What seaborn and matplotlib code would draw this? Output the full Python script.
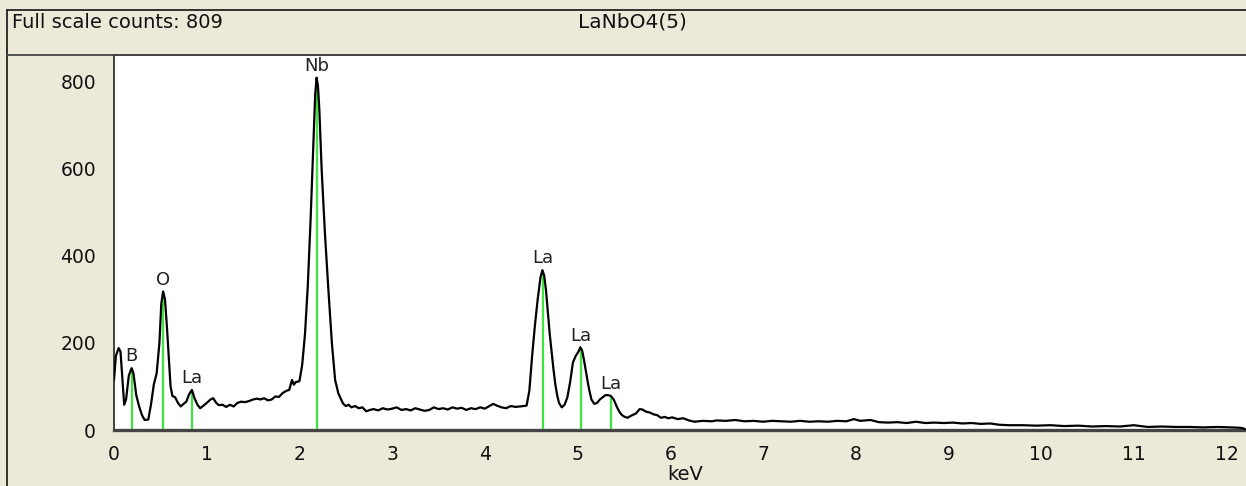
import numpy as np
import pandas as pd
import matplotlib
matplotlib.use("Agg")
import matplotlib.pyplot as plt
from matplotlib.lines import Line2D
import seaborn as sns

# ---- data ----
energy_kev = [
    0.00, 0.02, 0.05, 0.07, 0.09, 0.11, 0.13, 0.16, 0.19, 0.21, 0.24, 0.27, 0.30, 0.33, 0.37,
    0.40, 0.43, 0.46, 0.49, 0.51, 0.53, 0.55, 0.57, 0.59, 0.61, 0.63, 0.66, 0.69, 0.72, 0.75,
    0.78, 0.81, 0.84, 0.87, 0.90, 0.93, 0.96, 1.00, 1.04, 1.07, 1.10, 1.13, 1.17, 1.21, 1.25,
    1.29, 1.33, 1.37, 1.41, 1.45, 1.50, 1.54, 1.58, 1.62, 1.66, 1.70, 1.74, 1.78, 1.82, 1.86,
    1.89, 1.92, 1.94, 1.96, 2.00, 2.03, 2.06, 2.09, 2.12, 2.15, 2.17, 2.185, 2.20,
    2.215, 2.24, 2.275, 2.31, 2.35, 2.385, 2.42, 2.47, 2.50, 2.53, 2.56, 2.60,
    2.64, 2.68, 2.72, 2.76, 2.80, 2.85, 2.90, 2.95, 3.00, 3.05, 3.10, 3.15, 3.20, 3.25, 3.30,
    3.35, 3.40, 3.45, 3.50, 3.55, 3.60, 3.65, 3.70, 3.75, 3.80, 3.85, 3.90, 3.95, 4.00, 4.05,
    4.09, 4.13, 4.18, 4.23, 4.28, 4.33, 4.38, 4.42, 4.45, 4.48, 4.51, 4.54, 4.57, 4.60, 4.62,
    4.64, 4.66, 4.68, 4.70, 4.72, 4.74, 4.76, 4.78, 4.80, 4.83, 4.86, 4.89, 4.92, 4.95, 4.98,
    5.01, 5.03, 5.05, 5.07, 5.09, 5.11, 5.13, 5.15, 5.18, 5.21, 5.24, 5.27, 5.30, 5.33, 5.36,
    5.39, 5.42, 5.45, 5.48, 5.51, 5.54, 5.57, 5.60, 5.63, 5.67, 5.70, 5.74, 5.78, 5.82, 5.86,
    5.90, 5.94, 5.98, 6.02, 6.08, 6.14, 6.20, 6.26, 6.35, 6.45, 6.50, 6.60, 6.70, 6.80, 6.90,
    7.00, 7.10, 7.20, 7.30, 7.40, 7.50, 7.60, 7.70, 7.80, 7.90, 7.98, 8.05, 8.16, 8.25, 8.35,
    8.45, 8.55, 8.65, 8.75, 8.85, 8.95, 9.05, 9.15, 9.25, 9.35, 9.45, 9.55, 9.65, 9.80, 9.95,
    10.10, 10.25, 10.40, 10.55, 10.70, 10.85, 11.00, 11.15, 11.30, 11.45, 11.60, 11.75, 11.90,
    12.05, 12.15, 12.19, 12.21,
]
counts = [
    115, 170, 188, 180, 120, 58, 70, 125, 142, 130, 80, 55, 35, 23, 24,
    60, 105, 130, 200, 290, 318, 300, 240, 170, 100, 78, 75, 62, 54, 60,
    65, 82, 92, 72, 58, 50, 55, 62, 70, 73, 63, 57, 58, 53, 58,
    54, 62, 65, 64, 66, 70, 72, 70, 73, 68, 70, 77, 76, 85, 90,
    92, 115, 104, 110, 112, 150, 220, 330, 480, 650, 770, 809, 790,
    735, 597, 452, 330, 200, 115, 84, 61, 55, 58, 52, 55,
    50, 52, 43, 46, 48, 45, 50, 47, 49, 52, 46, 48, 45, 50, 47,
    44, 46, 52, 48, 50, 47, 52, 49, 51, 46, 50, 48, 52, 49, 55,
    60, 56, 52, 50, 55, 53, 54, 55, 56, 90, 170, 240, 300, 350, 367,
    355, 320, 270, 220, 180, 140, 105, 80, 62, 52, 58, 75, 110, 155, 170,
    180, 190, 182, 160, 135, 110, 88, 70, 60, 62, 70, 75, 80, 80, 78,
    70, 55, 42, 34, 30, 28, 32, 35, 38, 48, 47, 42, 40, 36, 34,
    28, 30, 27, 29, 25, 27, 22, 19, 21, 20, 22, 21, 23, 20, 21,
    19, 21, 20, 19, 21, 19, 20, 19, 21, 20, 25, 21, 23, 18, 17,
    18, 16, 19, 16, 17, 16, 17, 15, 16, 14, 15, 12, 11, 11, 10,
    11, 9, 10, 8, 9, 8, 11, 7, 8, 7, 7, 6, 7,
    6, 5, 3, 0,
]

marker_elements = ["B", "O", "La", "Nb", "La", "La", "La"]
marker_kev = [0.19, 0.53, 0.84, 2.185, 4.63, 5.04, 5.36]
marker_heights = [142, 318, 92, 809, 367, 188, 78]

x_ticks = [0, 1, 2, 3, 4, 5, 6, 7, 8, 9, 10, 11, 12]
y_ticks = [0, 200, 400, 600, 800]

header_left = "Full scale counts: 809"
header_title = "LaNbO4(5)"
x_label = "keV"

# ---- drawing ----
sns.set_theme(style="white")
plt.rcParams["font.family"] = ["DejaVu Sans"]

W, H = 1246, 486
beige = "#ECE9D8"
fig = plt.figure(figsize=(W / 100, H / 100), dpi=100, facecolor=beige)

left_px, right_px, top_px, bottom_px = 114, 1246, 55, 430
ax = fig.add_axes([left_px / W, 1 - bottom_px / H,
                   (right_px - left_px) / W, (bottom_px - top_px) / H])
ax.set_facecolor("white")

df = pd.DataFrame({"keV": energy_kev, "counts": counts})

ax.vlines(marker_kev, 0, marker_heights, colors="#3EE63E", linewidth=1.6, zorder=2)
sns.lineplot(data=df, x="keV", y="counts", ax=ax, color="black",
             linewidth=1.6, zorder=3, sort=False, estimator=None)

for el, xk, hk in zip(marker_elements, marker_kev, marker_heights):
    ax.annotate(el, (xk, hk), xytext=(0, 2), textcoords="offset points",
                ha="center", va="bottom", fontsize=13, color="#222222")

ax.set_xlim(0, 12.21)
ax.set_ylim(0, 861)
ax.set_xticks(x_ticks)
ax.set_yticks(y_ticks)
ax.set_xticklabels([str(t) for t in x_ticks])
ax.set_yticklabels([str(t) for t in y_ticks])
ax.tick_params(axis="both", direction="out", colors="#444444", labelcolor="#111111",
               labelsize=13.5, width=1.0)
ax.tick_params(axis="y", length=10, pad=3)
ax.tick_params(axis="x", length=8.5, pad=2)
ax.set_xlabel(x_label, fontsize=14, color="#111111")
ax.xaxis.set_label_coords((685 - left_px) / (right_px - left_px),
                          (bottom_px - 465) / (bottom_px - top_px))
ax.set_ylabel("")
ax.grid(False)

for side in ["left", "top", "bottom"]:
    ax.spines[side].set_color("#333333")
    ax.spines[side].set_linewidth(1.3)
ax.spines["right"].set_visible(False)
ax.spines["bottom"].set_linewidth(2.4)
ax.spines["bottom"].set_color("#444444")

# frame lines of the window
def fx(px):
    return px / W

def fy(py):
    return 1 - py / H

fig.add_artist(Line2D([fx(7), fx(W)], [fy(10), fy(10)], color="#222222", linewidth=1.3))
fig.add_artist(Line2D([fx(7), fx(7)], [fy(10), fy(H)], color="#222222", linewidth=1.3))
fig.add_artist(Line2D([fx(7), fx(W)], [fy(55), fy(55)], color="#444444", linewidth=1.3))

fig.text(fx(12), fy(22), header_left, ha="left", va="center", fontsize=14, color="#111111")
fig.text(fx(632), fy(22), header_title, ha="center", va="center", fontsize=14.5, color="#111111")

fig.savefig("out.png", dpi=100, facecolor=beige)
